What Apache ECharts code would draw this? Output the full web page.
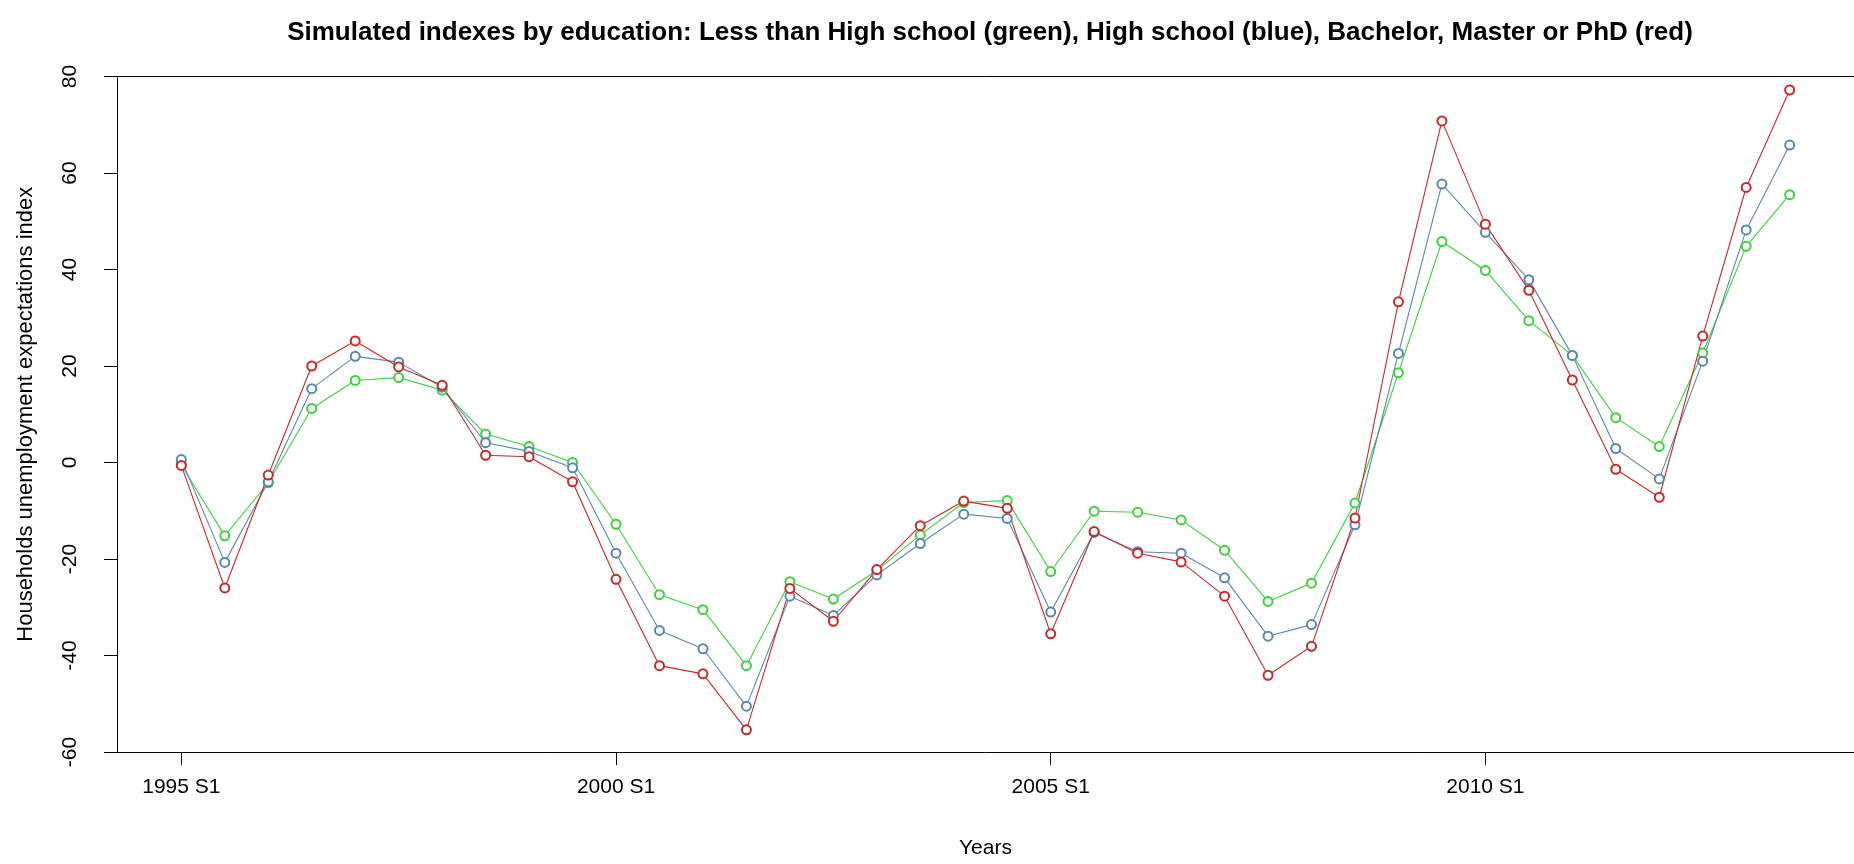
<!DOCTYPE html>
<html>
<head>
<meta charset="utf-8">
<title>Simulated indexes by education</title>
<script src="https://cdn.jsdelivr.net/npm/echarts@6/dist/echarts.min.js"></script>
<style>
  html, body { margin: 0; padding: 0; background: #ffffff; overflow: hidden; }
  #chart { width: 1854px; height: 864px; }
</style>
</head>
<body>
<div id="chart"></div>
<script>
// Half-year periods, 1995 S1 .. 2013 S2
const periods = [
  '1995 S1','1995 S2','1996 S1','1996 S2','1997 S1','1997 S2','1998 S1','1998 S2',
  '1999 S1','1999 S2','2000 S1','2000 S2','2001 S1','2001 S2','2002 S1','2002 S2',
  '2003 S1','2003 S2','2004 S1','2004 S2','2005 S1','2005 S2','2006 S1','2006 S2',
  '2007 S1','2007 S2','2008 S1','2008 S2','2009 S1','2009 S2','2010 S1','2010 S2',
  '2011 S1','2011 S2','2012 S1','2012 S2','2013 S1','2013 S2'
];

// Labelled periods on the x axis
const xTickLabels = ['1995 S1', '2000 S1', '2005 S1', '2010 S1'];

// Y axis ticks
const yTicks = [-60, -40, -20, 0, 20, 40, 60, 80];

// Less than High school
const lessThanHighSchool = [
  -0.5, -15.2, -4.2, 11.2, 17.0, 17.6, 15.0, 5.9, 3.3, 0.0,
  -12.8, -27.4, -30.5, -42.1, -24.7, -28.3, -22.4, -15.0, -8.3, -7.9,
  -22.6, -10.1, -10.3, -11.9, -18.2, -28.8, -25.0, -8.4, 18.6, 45.8,
  39.8, 29.4, 22.2, 9.3, 3.3, 22.7, 44.8, 55.5
];

// High school
const highSchool = [
  0.6, -20.7, -4.0, 15.3, 22.0, 20.8, 15.6, 4.1, 2.3, -1.1,
  -18.8, -34.8, -38.6, -50.5, -27.7, -31.7, -23.3, -16.8, -10.7, -11.6,
  -31.0, -14.5, -18.5, -18.8, -23.9, -36.0, -33.6, -12.9, 22.6, 57.7,
  47.7, 37.9, 22.2, 2.9, -3.4, 21.0, 48.2, 65.8
];

// Bachelor, Master or PhD
const bachelorMasterPhd = [
  -0.6, -26.0, -2.6, 20.0, 25.2, 19.8, 16.0, 1.5, 1.2, -4.0,
  -24.2, -42.1, -43.8, -55.4, -26.1, -32.9, -22.2, -13.1, -8.0, -9.5,
  -35.5, -14.3, -18.8, -20.6, -27.7, -44.1, -38.1, -11.5, 33.3, 70.8,
  49.4, 35.7, 17.1, -1.4, -7.2, 26.2, 57.0, 77.2
];

const FONT = "'Liberation Sans', Arial, sans-serif";

function toPoints(values) {
  return values.map((v, i) => [i, v]);
}

function lineSeries(name, values, color) {
  return {
    name: name,
    type: 'line',
    xAxisIndex: 0,
    data: toPoints(values),
    symbol: 'emptyCircle',
    symbolSize: 9,
    showAllSymbol: true,
    lineStyle: { color: color, width: 1.1 },
    itemStyle: { color: color, borderColor: color, borderWidth: 1 },
    emphasis: { disabled: true },
    animation: false
  };
}

const xTickValues = xTickLabels.map(l => periods.indexOf(l));
const pad = (periods.length - 1) * 0.04;
const xMin = -pad;
const xMax = periods.length - 1 + pad;

const chart = echarts.init(document.getElementById('chart'), null, { renderer: 'canvas' });

chart.setOption({
  backgroundColor: '#ffffff',
  animation: false,
  title: {
    text: 'Simulated indexes by education: Less than High school (green), High school (blue), Bachelor, Master or PhD (red)',
    left: 985,
    top: 15,
    textAlign: 'center',
    textStyle: { fontFamily: FONT, fontWeight: 'bold', fontSize: 26, color: '#000000' }
  },
  grid: {
    left: 117,
    top: 76.5,
    width: 1741.6,
    height: 676.8,
    show: false,
    containLabel: false
  },
  xAxis: [
    {
      type: 'value',
      position: 'bottom',
      min: xMin,
      max: xMax,
      name: 'Years',
      nameLocation: 'middle',
      nameGap: 86,
      nameTextStyle: { fontFamily: FONT, fontSize: 21, color: '#000000' },
      axisLine: { show: true, onZero: false, lineStyle: { color: '#000000', width: 1 } },
      axisTick: {
        show: true, inside: false, length: 13,
        customValues: xTickValues,
        lineStyle: { color: '#000000', width: 1 }
      },
      axisLabel: {
        show: true, margin: 25,
        customValues: xTickValues,
        formatter: v => periods[Math.round(v)],
        fontFamily: FONT, fontSize: 21, color: '#000000'
      },
      splitLine: { show: false }
    },
    {
      // top edge of the plot box
      type: 'value',
      position: 'top',
      min: xMin,
      max: xMax,
      axisLine: { show: true, onZero: false, lineStyle: { color: '#000000', width: 1 } },
      axisTick: { show: false },
      axisLabel: { show: false },
      splitLine: { show: false }
    }
  ],
  yAxis: {
    type: 'value',
    min: -60,
    max: 80,
    interval: 20,
    name: 'Households unemployment expectations index',
    nameLocation: 'middle',
    nameRotate: 90,
    nameGap: 80,
    nameTextStyle: { fontFamily: FONT, fontSize: 22, color: '#000000' },
    axisLine: { show: true, onZero: false, lineStyle: { color: '#000000', width: 1 } },
    axisTick: { show: true, inside: false, length: 13, lineStyle: { color: '#000000', width: 1 } },
    axisLabel: {
      show: true, margin: 36, rotate: 90,
      customValues: yTicks,
      fontFamily: FONT, fontSize: 21, color: '#000000'
    },
    splitLine: { show: false }
  },
  series: [
    lineSeries('Less than High school', lessThanHighSchool, '#3fcf3f'),
    lineSeries('High school', highSchool, '#5a86b0'),
    lineSeries('Bachelor, Master or PhD', bachelorMasterPhd, '#c42a2a')
  ]
});
</script>
</body>
</html>
